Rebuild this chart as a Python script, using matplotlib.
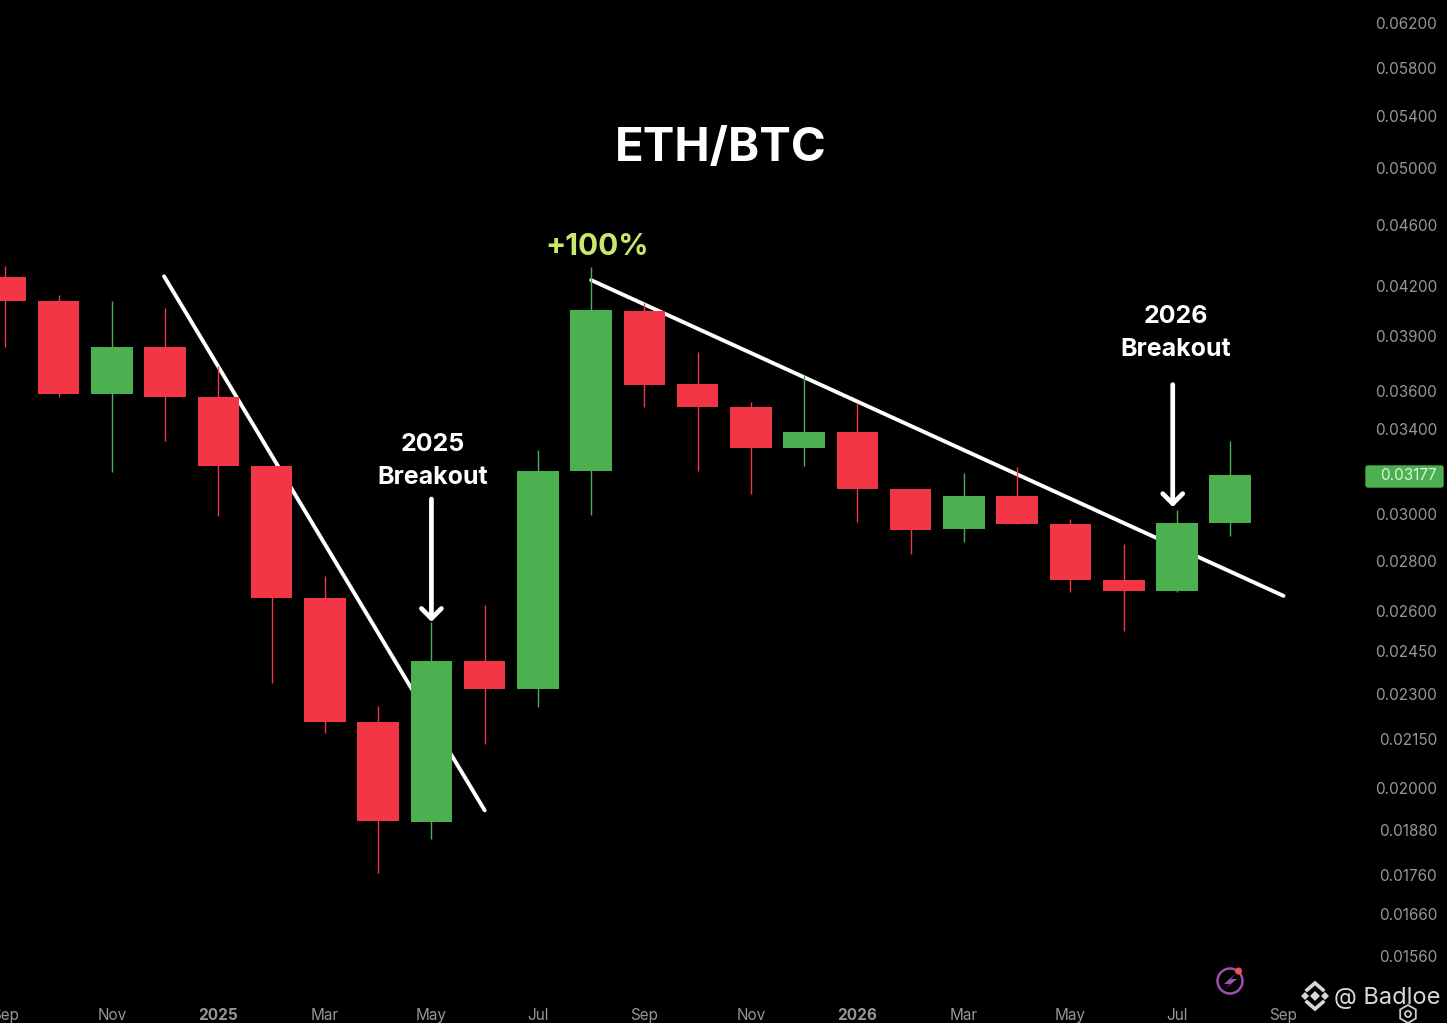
import matplotlib
matplotlib.use('Agg')
import matplotlib.pyplot as plt
from matplotlib.patches import Circle, Polygon, FancyBboxPatch, RegularPolygon
from matplotlib.ticker import NullLocator

plt.rcParams['font.family'] = ['Inter', 'DejaVu Sans']

# monthly candles, Sep 2024 onwards
opens = [0.04256, 0.04107, 0.03584, 0.03842, 0.03568, 0.03220, 0.02650, 0.02205, 0.01903, 0.02414,
         0.02317, 0.03195, 0.04052, 0.03637, 0.03511, 0.03308, 0.03385, 0.03113, 0.02934, 0.03080,
         0.02956, 0.02719, 0.02679, 0.02960]
closes = [0.04107, 0.03584, 0.03842, 0.03568, 0.03220, 0.02650, 0.02205, 0.01906, 0.02414, 0.02317,
          0.03195, 0.04058, 0.03632, 0.03511, 0.03308, 0.03385, 0.03113, 0.02930, 0.03080, 0.02956,
          0.02723, 0.02679, 0.02960, 0.03177]
highs = [0.04330, 0.04144, 0.04107, 0.04070, 0.03733, 0.03220, 0.02739, 0.02260, 0.02558, 0.02623,
         0.03295, 0.04324, 0.04095, 0.03810, 0.03537, 0.03685, 0.03532, 0.03113, 0.03186, 0.03214,
         0.02978, 0.02870, 0.03018, 0.03340]
lows = [0.03837, 0.03568, 0.03190, 0.03340, 0.02991, 0.02338, 0.02170, 0.01766, 0.01855, 0.02137,
        0.02257, 0.02996, 0.03516, 0.03195, 0.03089, 0.03219, 0.02965, 0.02828, 0.02878, 0.02956,
        0.02674, 0.02525, 0.02674, 0.02904]

price_ticks = [0.062, 0.058, 0.054, 0.050, 0.046, 0.042, 0.039, 0.036, 0.034, 0.030, 0.028, 0.026,
               0.0245, 0.023, 0.0215, 0.020, 0.0188, 0.0176, 0.0166, 0.0156]
month_ticks = [0, 2, 4, 6, 8, 10, 12, 14, 16, 18, 20, 22, 24]
month_labels = ['Sep', 'Nov', '2025', 'Mar', 'May', 'Jul', 'Sep', 'Nov', '2026', 'Mar', 'May', 'Jul', 'Sep']

last_price = 0.03177

# trend lines (candle index, price)
line1_x = [2.98, 9.0]
line1_y = [0.04262, 0.01936]
line2_x = [11.0, 24.0]
line2_y = [0.04238, 0.02658]

RED = '#f23645'
GREEN = '#4caf50'
GREY = '#979797'

fig = plt.figure(figsize=(14.47, 10.23), dpi=100, facecolor='black')
ax = fig.add_axes([0, 0, 1, 1], facecolor='black')
ax.set_yscale('log')
ax.set_xlim(-0.101, 27.07)
ax.set_ylim(0.01414, 0.06411)

for i in range(len(opens)):
    col = GREEN if closes[i] >= opens[i] else RED
    ax.vlines(i, lows[i], highs[i], color=col, lw=1.0, zorder=3)
    ax.bar(i, abs(closes[i] - opens[i]), bottom=min(opens[i], closes[i]), width=0.78, color=col, zorder=4)

ax.plot(line1_x, line1_y, color='white', lw=2.8, solid_capstyle='round', zorder=2)
ax.plot(line2_x, line2_y, color='white', lw=2.8, solid_capstyle='round', zorder=2)

# breakout arrows
arrow = dict(arrowstyle='->,head_width=0.36,head_length=0.36', color='white', lw=3.4,
             shrinkA=0, shrinkB=0, mutation_scale=20, capstyle='round')
ax.annotate('', xy=(8.0, 0.02558), xytext=(8.0, 0.03067), arrowprops=arrow, zorder=5)
ax.annotate('', xy=(21.92, 0.03031), xytext=(21.92, 0.03632), arrowprops=arrow, zorder=5)

ax.set_yticks(price_ticks)
ax.set_yticklabels(['%.5f' % p for p in price_ticks], ha='right')
ax.yaxis.set_minor_locator(NullLocator())
ax.yaxis.tick_right()
ax.tick_params(axis='y', length=0, pad=-7.2, labelsize=11, labelcolor=GREY)

ax.set_xticks(month_ticks)
ax.set_xticklabels(month_labels)
ax.tick_params(axis='x', length=0, pad=-11, labelsize=11, labelcolor=GREY)
for lab in ax.get_xticklabels():
    if lab.get_text().startswith('20'):
        lab.set_fontweight('bold')
for s in ax.spines.values():
    s.set_visible(False)

# everything below sits on an overlay in pixel coordinates
ov = fig.add_axes([0, 0, 1, 1], facecolor='none')
ov.set_xlim(0, 1447)
ov.set_ylim(1023, 0)
ov.axis('off')

ov.text(721, 149, 'ETH/BTC', color='white', fontsize=34, fontweight='bold', ha='center', va='center')
ov.text(597, 247, '+100%', color='#c8e86e', fontsize=21.5, fontweight='bold', ha='center', va='center')
ov.text(433, 461, '2025\nBreakout', color='white', fontsize=18, fontweight='bold', ha='center', va='center', linespacing=1.55)
ov.text(1176, 333, '2026\nBreakout', color='white', fontsize=18, fontweight='bold', ha='center', va='center', linespacing=1.55)

# last price tag
ov.add_patch(FancyBboxPatch((1366, 466), 77, 21, boxstyle='round,pad=0,rounding_size=2', fc=GREEN, ec=GREEN, lw=1))
ov.text(1437, 476, '%.5f' % last_price, color='#d9f5da', fontsize=11, ha='right', va='center')

# lightning badge
ov.add_patch(Circle((1230, 981), 12.5, fc='none', ec='#9c4fb0', lw=1.8))
ov.add_patch(Polygon([(1236, 973), (1224, 984), (1230, 984), (1224, 990), (1237, 979), (1231, 979)], fc='#9c4fb0', ec='none'))
ov.add_patch(Circle((1238.5, 971), 3.5, fc='#f0524f', ec='none'))

# watermark
wm = '#d8d8d8'
ov.add_patch(Polygon([(1315, 991), (1320, 996), (1315, 1001), (1310, 996)], fc=wm, ec='none'))
ov.add_patch(Polygon([(1305, 992), (1309, 996), (1305, 1000), (1301, 996)], fc=wm, ec='none'))
ov.add_patch(Polygon([(1325, 992), (1329, 996), (1325, 1000), (1321, 996)], fc=wm, ec='none'))
ov.plot([1307, 1315, 1323], [990, 983, 990], color=wm, lw=2.6, solid_joinstyle='miter')
ov.plot([1307, 1315, 1323], [1002, 1009, 1002], color=wm, lw=2.6, solid_joinstyle='miter')
ov.text(1334, 998, '@ Badloe', color=wm, fontsize=17, ha='left', va='center')

# settings hexagon
ov.add_patch(RegularPolygon((1408, 1014), 6, radius=9, fc='none', ec='#cccccc', lw=1.3))
ov.add_patch(Circle((1408, 1014), 3, fc='none', ec='#cccccc', lw=1.3))

fig.savefig('out.png', dpi=100, facecolor='black')
